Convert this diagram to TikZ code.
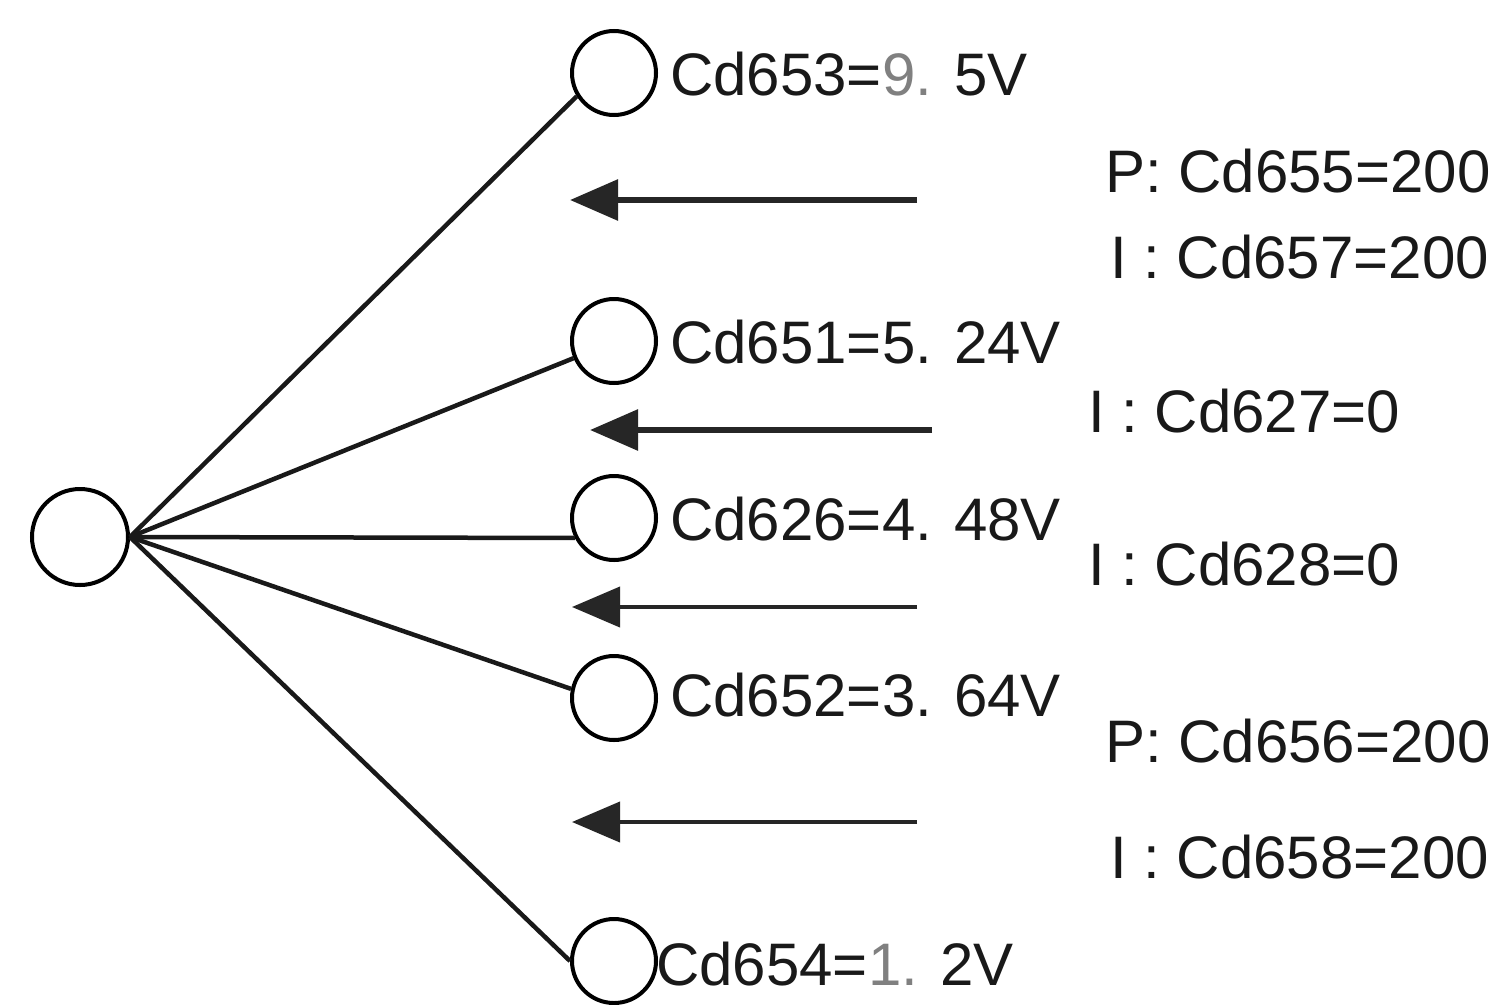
\documentclass[tikz,border=0pt]{standalone}
\usepackage{fontspec}
\setmainfont{Liberation Sans}
\usetikzlibrary{arrows.meta}
\begin{document}
\begin{tikzpicture}[x=1pt,y=-1pt,
  ring/.style={draw=black,line width=4pt,circle,minimum size=#1,inner sep=0pt},
  link/.style={line width=4.5pt,draw=black!90},
  lbl/.style={anchor=base west,inner sep=0pt,text=black!90,font=\fontsize{60}{72}\selectfont},
  flow/.style={line width=#1,draw=black!85,-{Triangle[length=48pt,width=40pt]}}]
\useasboundingbox (0,0) rectangle (1511,1004);
\fill[white] (0,0) rectangle (1511,1004);
% nodes
\node[ring=96pt] (L) at (80,537) {};
\node[ring=84pt] (c1) at (614,73) {};
\node[ring=84pt] (c2) at (614,341) {};
\node[ring=84pt] (c3) at (614,518) {};
\node[ring=84pt] (c4) at (614,698) {};
\node[ring=84pt] (c5) at (614,961) {};
% connectors
\draw[link] (L.east) -- (c1.212);
\draw[link] (L.east) -- (c2.203);
\draw[link] (L.east) -- (c3.207);
\draw[link] (L.east) -- (c4.168);
\draw[link] (L.east) -- (c5.west);
% voltage labels
\node[lbl] (t1) at (670,95) {Cd653=\textcolor{black!50}{9.} 5V};
\node[lbl] (t2) at (670,363) {Cd651=5. 24V};
\node[lbl] (t3) at (670,540) {Cd626=4. 48V};
\node[lbl] (t4) at (670,716) {Cd652=3. 64V};
\node[lbl] (t5) at (656,985) {Cd654=\textcolor{black!50}{1.} 2V};
% right labels
\node[lbl] (r1) at (1105,192) {P: Cd655=200};
\node[lbl] (r2) at (1110,278) {I : Cd657=200};
\node[lbl] (r3) at (1088,432) {I : Cd627=0};
\node[lbl] (r4) at (1088,585) {I : Cd628=0};
\node[lbl] (r5) at (1105,762) {P: Cd656=200};
\node[lbl] (r6) at (1110,878) {I : Cd658=200};
% arrows
\coordinate (a1s) at (917,200); \coordinate (a1e) at (570,200);
\coordinate (a2s) at (932,430); \coordinate (a2e) at (590,430);
\coordinate (a3s) at (917,607); \coordinate (a3e) at (572,607);
\coordinate (a4s) at (917,822); \coordinate (a4e) at (572,822);
\draw[flow=6pt] (a1s) -- (a1e);
\draw[flow=6pt] (a2s) -- (a2e);
\draw[flow=4pt] (a3s) -- (a3e);
\draw[flow=4pt] (a4s) -- (a4e);
\end{tikzpicture}
\end{document}
